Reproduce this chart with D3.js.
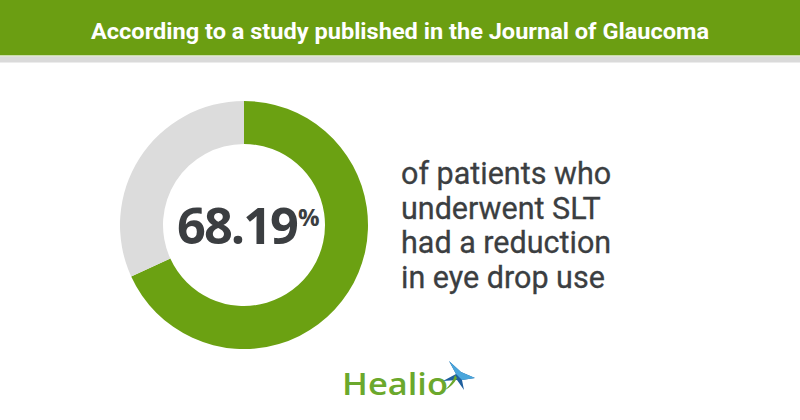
<!DOCTYPE html>
<html><head><meta charset="utf-8">
<script src="https://cdn.jsdelivr.net/npm/d3@7"></script>
<style>html,body{margin:0;padding:0;background:#fff;}svg{display:block;}</style>
</head><body>
<svg id="c" width="800" height="420"></svg>
<script>
const title = "According to a study published in the Journal of Glaucoma";
const categories = ["Reduced eye drop use", "Other"];
const values = [68.19, 31.81];
const colors = ["#6ba112", "#dcdcdc"];
const bigLabel = "68.19";
const captionLines = ["of patients who", "underwent SLT", "had a reduction", "in eye drop use"];

const svg = d3.select("#c");
// header
svg.append("rect").attr("x",0).attr("y",0).attr("width",800).attr("height",55).attr("fill","#6b9e12");
svg.append("rect").attr("x",0).attr("y",55).attr("width",800).attr("height",1.5).attr("fill","#c9dca8");
svg.append("rect").attr("x",0).attr("y",56.5).attr("width",800).attr("height",6).attr("fill","#dadada");
svg.append("text").attr("x",400).attr("y",38.5).attr("text-anchor","middle")
  .attr("font-family","Roboto").attr("font-weight",700).attr("font-size",22.5)
  .attr("fill","#fff").attr("textLength",618).attr("lengthAdjust","spacingAndGlyphs").text(title);

// donut
const cx = 244, cy = 225, rO = 124, rI = 81;
const pie = d3.pie().sort(null).value(d=>d);
const arc = d3.arc().innerRadius(rI).outerRadius(rO);
const g = svg.append("g").attr("transform",`translate(${cx},${cy})`);
g.selectAll("path").data(pie(values)).join("path").attr("d",arc).attr("fill",(d,i)=>colors[i]);

const t = g.append("text").attr("x",-67).attr("y",19)
  .attr("font-family","Open Sans").attr("font-weight",700).attr("fill","#3b3e41");
t.append("tspan").attr("font-size",51).attr("letter-spacing",-2).attr("textLength",120).attr("lengthAdjust","spacingAndGlyphs").text(bigLabel);
t.append("tspan").attr("font-size",24).attr("dy",-18).attr("dx",1).text("%");

// caption
const cap = svg.append("text").attr("font-family","Roboto").attr("font-size",30.5).attr("fill","#3b3e41")
  .attr("stroke","#3b3e41").attr("stroke-width",0.3);
cap.selectAll("tspan").data(captionLines).join("tspan").attr("x",401)
  .attr("y",(d,i)=>184+i*34.7).text(d=>d);

// logo
svg.append("text").attr("x",342).attr("y",395).attr("font-family","Open Sans").attr("font-weight",600).attr("font-size",31)
  .attr("fill","#6ba82c").attr("textLength",106).attr("lengthAdjust","spacingAndGlyphs").text("Healio");
const s = svg.append("g").attr("transform","translate(459,376)");
s.append("path").attr("d","M-10,-15 L2,-4 L16,2 L3,4 L5,14 L-2,4 L-16,5 L-3,-2Z").attr("fill","#1f5f9e");
s.append("path").attr("d","M-10,-15 L2,-4 L-1,0 L-3,-2Z M16,2 L3,4 L-1,0 L2,-4Z").attr("fill","#4aa6dc");
s.append("path").attr("d","M-2,2 Q-6,10 -14,14 Q-6,6 -4,-1Z").attr("fill","#6ba82c");
</script>
</body></html>
